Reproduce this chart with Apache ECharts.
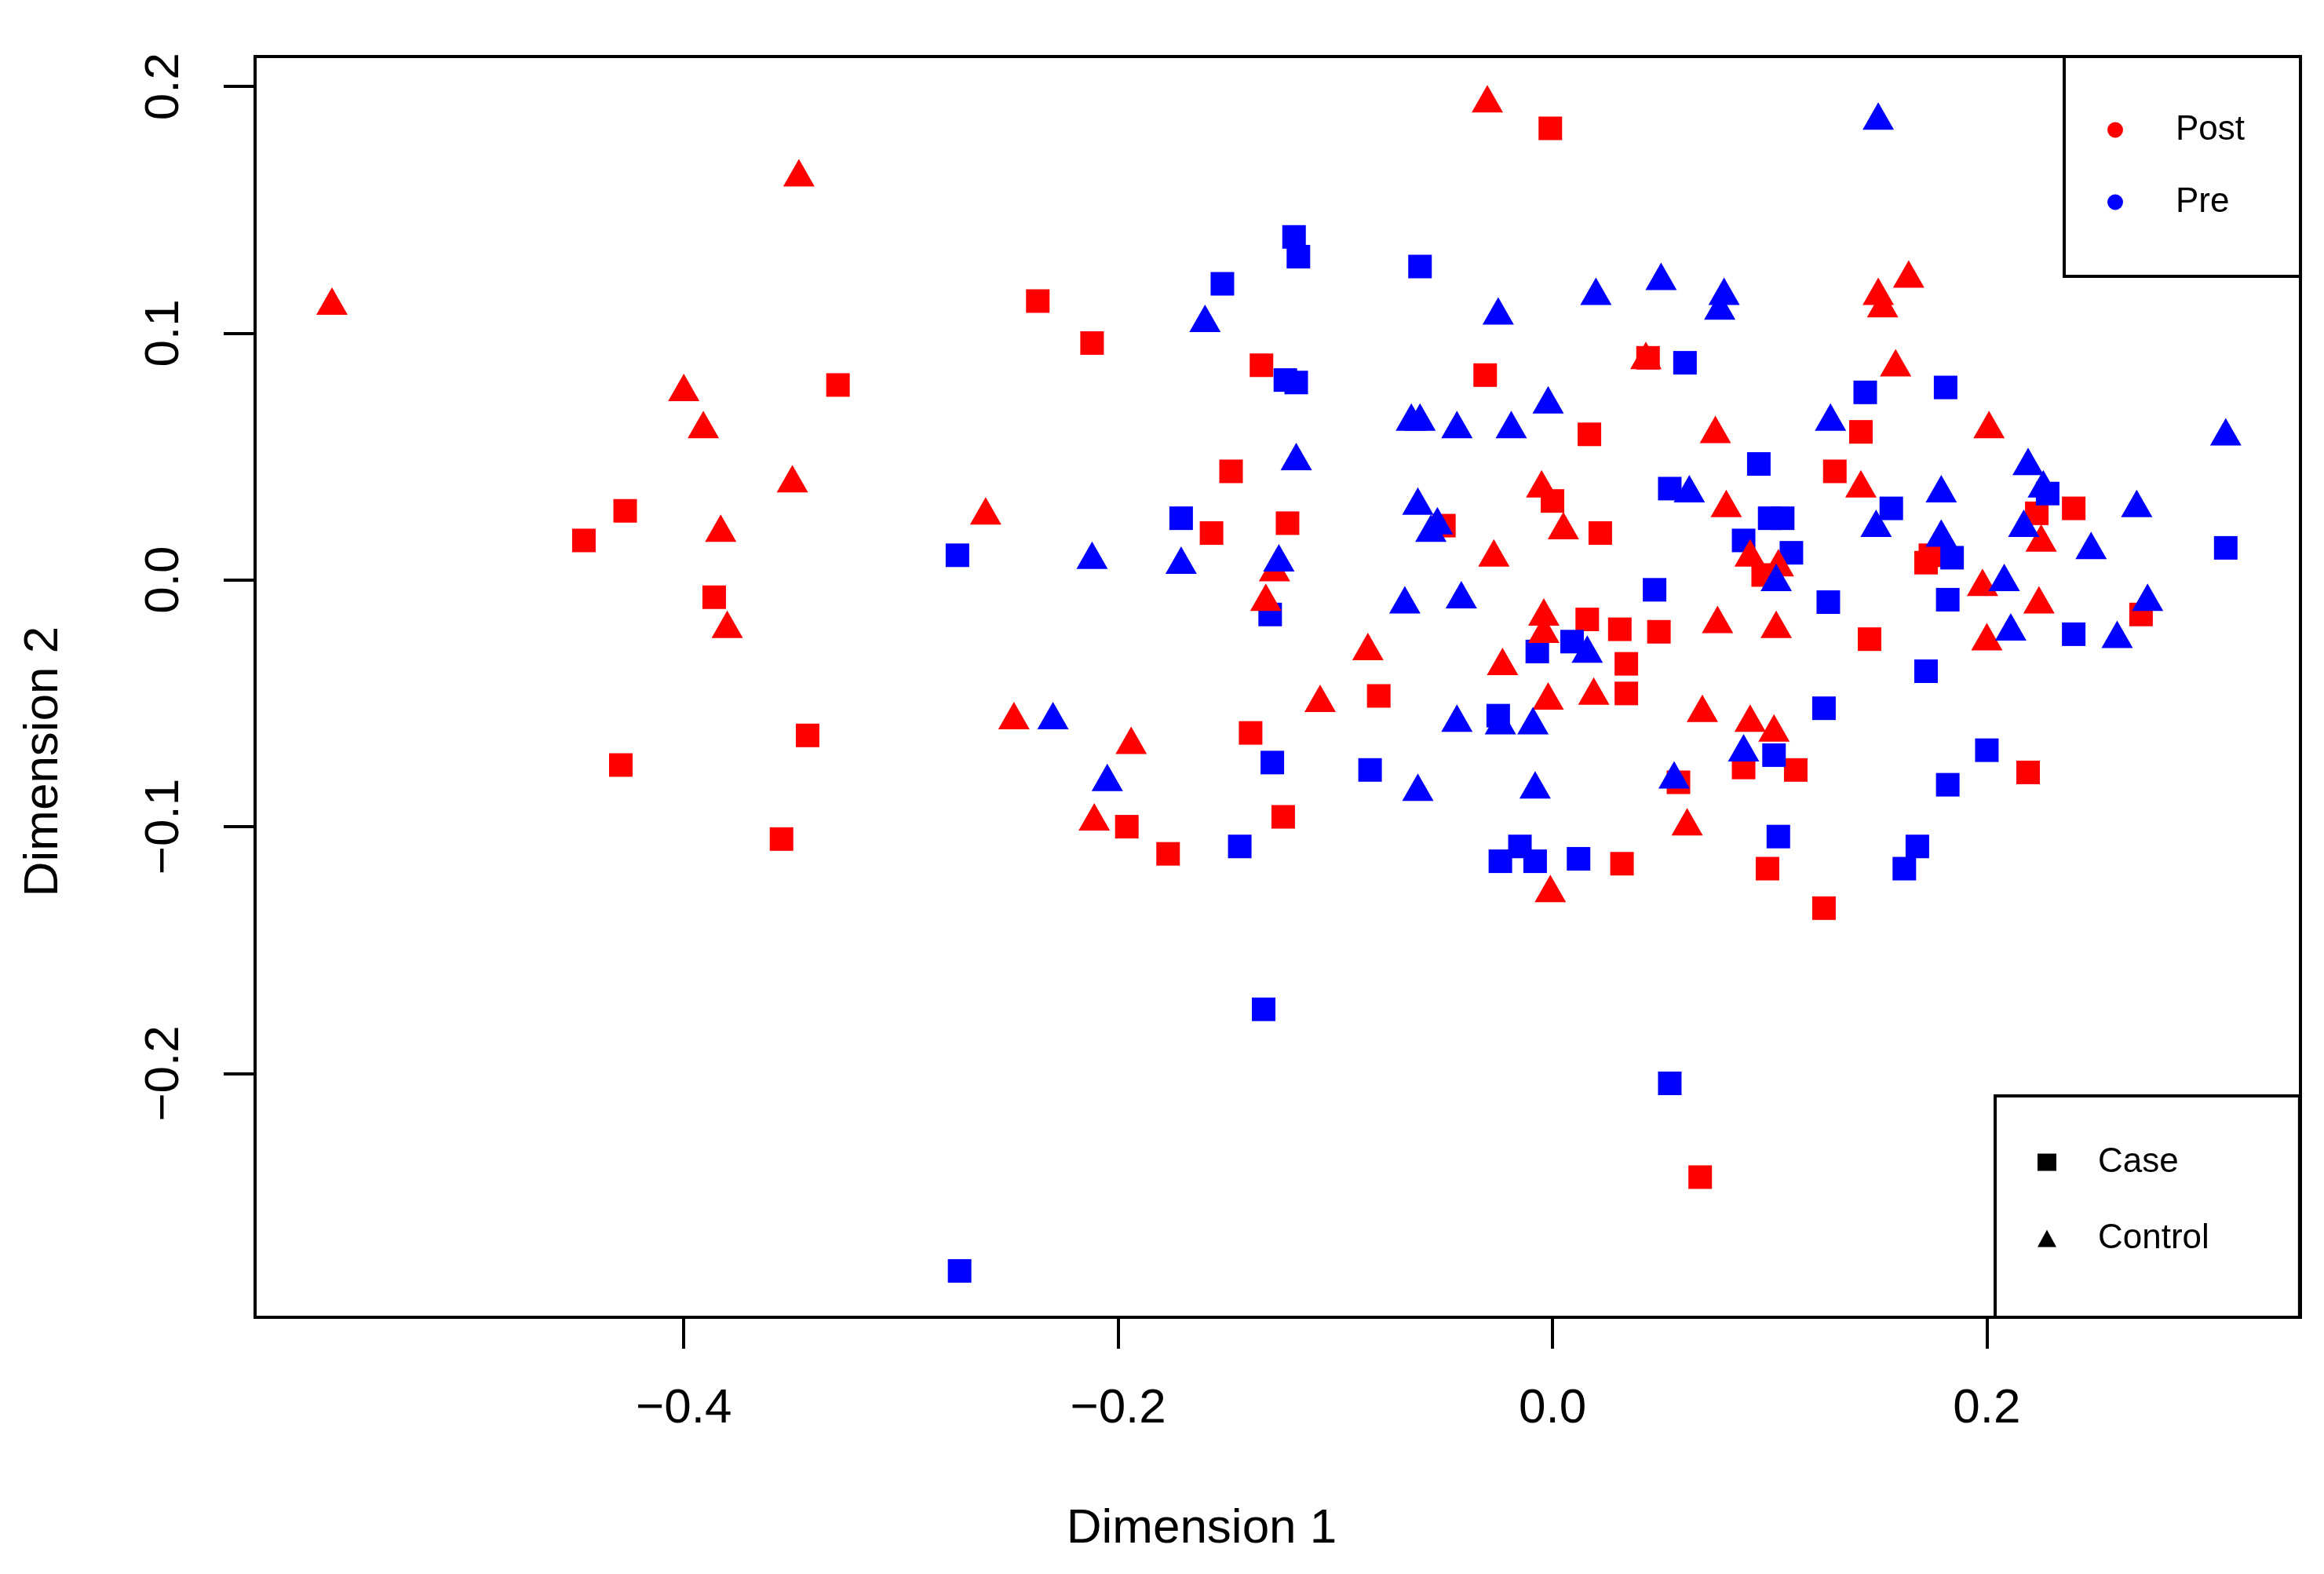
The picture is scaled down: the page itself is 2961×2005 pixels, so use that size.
<!DOCTYPE html>
<html lang="en">
<head>
    <meta charset="utf-8">
    <title>MDS plot</title>
    <script src="https://cdn.jsdelivr.net/npm/echarts@6.0.0/dist/echarts.min.js"></script>
    <style>
        html, body { margin: 0; padding: 0; background: #fff; }
        #container { width: 2961px; height: 2005px; }
    </style>
</head>
<body>
<div id="container"></div>
<script>
    // points: [Dimension 1, Dimension 2]
    var postCase = [
        [-0.001, 0.183], [-0.237, 0.113], [-0.212, 0.096], [-0.329, 0.079], [-0.427, 0.028],
        [-0.446, 0.016], [-0.386, -0.007], [-0.343, -0.063], [-0.429, -0.075], [-0.355, -0.105],
        [-0.134, 0.087], [-0.148, 0.044], [-0.157, 0.019], [-0.122, 0.023], [-0.139, -0.062],
        [-0.124, -0.096], [-0.080, -0.047], [-0.196, -0.100], [-0.177, -0.111], [-0.031, 0.083],
        [-0.050, 0.022], [0.000, 0.032], [0.017, 0.059], [0.022, 0.019], [0.044, 0.090],
        [0.016, -0.016], [0.031, -0.020], [0.034, -0.034], [0.034, -0.046], [0.049, -0.021],
        [0.032, -0.115], [0.058, -0.082], [0.068, -0.242], [0.097, 0.002], [0.088, -0.076],
        [0.099, -0.117], [0.112, -0.077], [0.125, -0.133], [0.130, 0.044], [0.142, 0.060],
        [0.146, -0.024], [0.172, 0.007], [0.174, 0.010], [0.219, -0.078], [0.223, 0.027],
        [0.240, 0.029], [0.271, -0.014]
    ];
    var postControl = [
        [-0.562, 0.113], [-0.347, 0.165], [-0.400, 0.078], [-0.391, 0.063], [-0.350, 0.041],
        [-0.383, 0.021], [-0.380, -0.018], [-0.261, 0.028], [-0.248, -0.055], [-0.194, -0.065],
        [-0.211, -0.096], [-0.128, 0.005], [-0.132, -0.007], [-0.085, -0.027], [-0.107, -0.048],
        [-0.030, 0.195], [-0.027, 0.011], [-0.005, 0.039], [0.005, 0.022], [-0.004, -0.013],
        [-0.004, -0.020], [-0.023, -0.033], [-0.002, -0.047], [0.019, -0.045], [-0.001, -0.125],
        [0.043, 0.091], [0.075, 0.061], [0.080, 0.031], [0.150, 0.117], [0.164, 0.124],
        [0.152, 0.112], [0.158, 0.088], [0.201, 0.063], [0.142, 0.039], [0.225, 0.017],
        [0.091, 0.011], [0.104, 0.007], [0.198, -0.001], [0.224, -0.008], [0.200, -0.023],
        [0.076, -0.016], [0.103, -0.018], [0.069, -0.052], [0.091, -0.056], [0.102, -0.060],
        [0.062, -0.098]
    ];
    var preCase = [
        [-0.119, 0.139], [-0.117, 0.131], [-0.061, 0.127], [-0.152, 0.120], [-0.123, 0.081],
        [-0.118, 0.080], [-0.171, 0.025], [-0.274, 0.010], [-0.130, -0.014], [-0.129, -0.074],
        [-0.144, -0.108], [-0.133, -0.174], [-0.273, -0.280], [-0.084, -0.077], [-0.025, -0.055],
        [-0.024, -0.114], [-0.015, -0.108], [-0.008, -0.114], [0.012, -0.113], [-0.007, -0.029],
        [0.009, -0.025], [0.054, -0.204], [0.054, 0.037], [0.061, 0.088], [0.047, -0.004],
        [0.095, 0.047], [0.088, 0.016], [0.100, 0.025], [0.106, 0.025], [0.110, 0.011],
        [0.127, -0.009], [0.125, -0.052], [0.102, -0.071], [0.104, -0.104], [0.144, 0.076],
        [0.156, 0.029], [0.181, 0.078], [0.184, 0.009], [0.182, -0.008], [0.172, -0.037],
        [0.182, -0.083], [0.168, -0.108], [0.162, -0.117], [0.200, -0.069], [0.240, -0.022],
        [0.310, 0.013], [0.228, 0.035]
    ];
    var preControl = [
        [0.150, 0.188], [-0.160, 0.106], [-0.025, 0.109], [0.020, 0.117], [0.050, 0.123],
        [0.079, 0.117], [0.077, 0.111], [-0.118, 0.050], [-0.065, 0.066], [-0.061, 0.066],
        [-0.044, 0.063], [-0.019, 0.063], [-0.002, 0.073], [-0.062, 0.032], [-0.053, 0.024],
        [-0.056, 0.021], [-0.068, -0.008], [-0.042, -0.006], [-0.126, 0.009], [-0.212, 0.010],
        [-0.171, 0.008], [-0.230, -0.055], [-0.205, -0.080], [-0.062, -0.084], [-0.044, -0.056],
        [-0.024, -0.057], [-0.009, -0.057], [-0.008, -0.083], [0.016, -0.028], [0.056, -0.079],
        [0.063, 0.037], [0.088, -0.068], [0.103, 0.001], [0.128, 0.066], [0.149, 0.023],
        [0.179, 0.037], [0.179, 0.019], [0.219, 0.048], [0.226, 0.039], [0.217, 0.023],
        [0.208, 0.001], [0.211, -0.019], [0.248, 0.014], [0.269, 0.031], [0.274, -0.007],
        [0.260, -0.022], [0.310, 0.060]
    ];
    var xTicks = [-0.4, -0.2, 0.0, 0.2];
    var yTicks = [-0.2, -0.1, 0.0, 0.1, 0.2];
    var colorLegend = ['Post', 'Pre'];
    var shapeLegend = ['Case', 'Control'];

    var FONT = 'Liberation Sans';
    var RED = '#ff0000', BLUE = '#0000ff';

    // R style numbers: one decimal, real minus sign
    function fmt(v) {
        return v.toFixed(1).replace('-', '\u2212');
    }

    function pointSeries(name, data, color, symbol) {
        return {
            type: 'scatter',
            name: name,
            data: data,
            symbol: symbol,
            symbolSize: symbol === 'rect' ? 30 : [40, 35],
            itemStyle: { color: color, opacity: 1 },
            silent: true,
            emphasis: { disabled: true }
        };
    }

    // empty series, only there so the two legends have something to point at
    function keySeries(name, color, symbol) {
        return { type: 'scatter', name: name, data: [], symbol: symbol, itemStyle: { color: color, opacity: 1 } };
    }

    var myChart = echarts.init(document.getElementById('container'));
    var option = {
        animation: false,
        backgroundColor: '#fff',
        grid: {
            left: 325, top: 72, right: 30, bottom: 327,
            show: true, borderColor: '#000', borderWidth: 4
        },
        xAxis: {
            type: 'value',
            min: -0.5974, max: 0.3444,
            name: 'Dimension 1',
            nameLocation: 'middle',
            nameGap: 239,
            nameTextStyle: { fontFamily: FONT, fontSize: 62, color: '#000', padding: [0, 194, 0, 0] },
            axisLine: { show: false, onZero: false },
            splitLine: { show: false },
            axisTick: { show: true, customValues: xTicks, length: 40, lineStyle: { color: '#000', width: 4 } },
            axisLabel: { show: true, customValues: xTicks, margin: 86, formatter: fmt,
                         fontFamily: FONT, fontSize: 62, color: '#000' }
        },
        yAxis: {
            type: 'value',
            min: -0.2988, max: 0.2121,
            name: 'Dimension 2',
            nameLocation: 'middle',
            nameGap: 238,
            nameTextStyle: { fontFamily: FONT, fontSize: 62, color: '#000', padding: [0, 190, 0, 0] },
            axisLine: { show: false, onZero: false },
            splitLine: { show: false },
            axisTick: { show: true, customValues: yTicks, length: 40, lineStyle: { color: '#000', width: 4 } },
            axisLabel: { show: true, customValues: yTicks, margin: 84, rotate: 90, formatter: fmt,
                         fontFamily: FONT, fontSize: 62, color: '#000' }
        },
        legend: [
            {
                orient: 'vertical', left: 2630, top: 72,
                data: colorLegend,
                selectedMode: false,
                padding: [71, 71, 72, 55],
                itemWidth: 20, itemHeight: 20, itemGap: 47,
                borderColor: '#000', borderWidth: 4,
                itemStyle: { opacity: 1 },
                textStyle: { fontFamily: FONT, fontSize: 44, lineHeight: 45, color: '#000', padding: [0, 0, 0, 62] }
            },
            {
                orient: 'vertical', left: 2542, top: 1396,
                data: [{ name: shapeLegend[0], icon: 'rect' }, { name: shapeLegend[1], icon: 'triangle' }],
                selectedMode: false,
                padding: [62, 115, 78, 54],
                itemWidth: 24, itemHeight: 22, itemGap: 52,
                borderColor: '#000', borderWidth: 4,
                itemStyle: { opacity: 1 },
                textStyle: { fontFamily: FONT, fontSize: 44, lineHeight: 45, color: '#000', padding: [0, 0, 0, 48] }
            }
        ],
        series: [
            pointSeries('Post Case', postCase, RED, 'rect'),
            pointSeries('Pre Case', preCase, BLUE, 'rect'),
            pointSeries('Post Control', postControl, RED, 'triangle'),
            pointSeries('Pre Control', preControl, BLUE, 'triangle'),
            keySeries(colorLegend[0], RED, 'circle'),
            keySeries(colorLegend[1], BLUE, 'circle'),
            keySeries(shapeLegend[0], '#000', 'rect'),
            keySeries(shapeLegend[1], '#000', 'triangle')
        ]
    };
    myChart.setOption(option);
</script>
</body>
</html>
